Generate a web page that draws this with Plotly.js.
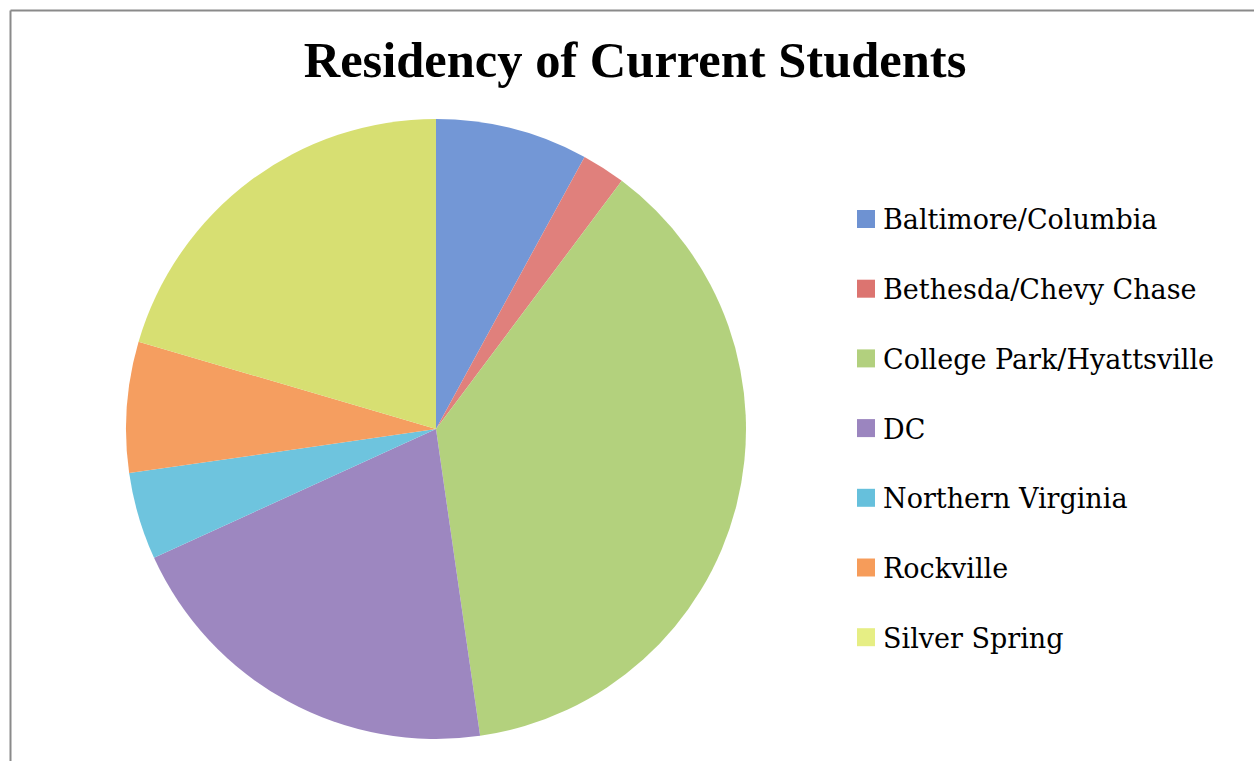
<!DOCTYPE html>
<html>
<head>
<meta charset="utf-8">
<script src="https://cdn.plot.ly/plotly-3.0.1.min.js"></script>
<style>html,body{margin:0;padding:0;background:#fff;}#chart{width:1254px;height:761px;}</style>
</head>
<body>
<div id="chart"></div>
<script>
// Data
const categories = ["Baltimore/Columbia", "Bethesda/Chevy Chase", "College Park/Hyattsville", "DC", "Northern Virginia", "Rockville", "Silver Spring"];
const students = [7, 2, 33, 18, 4, 6, 18];
const sliceColors = ["#7397d6", "#e0807c", "#b3d17d", "#9d87c0", "#6ec4de", "#f59e60", "#d7df72"];
const legendColors = ["#6e92d2", "#dc7470", "#b2d07e", "#9b85bf", "#66c0dc", "#f69c5a", "#e6ee84"];
const chartTitle = "Residency of Current Students";

const W = 1254, H = 761;
const px = x => x / W;
const py = y => 1 - y / H;

const shapes = [
  {type: "line", xref: "paper", yref: "paper", x0: px(10.5), x1: px(1254), y0: py(10.5), y1: py(10.5), line: {color: "#8a8a8a", width: 2}},
  {type: "line", xref: "paper", yref: "paper", x0: px(10.5), x1: px(10.5), y0: py(10.5), y1: py(761), line: {color: "#8a8a8a", width: 2}}
];
const annotations = [];
const legendTop = 219, legendStep = 69.7;
categories.forEach((c, i) => {
  const cy = legendTop + i * legendStep;
  shapes.push({type: "rect", xref: "paper", yref: "paper", x0: px(857), x1: px(875), y0: py(cy - 9), y1: py(cy + 9), fillcolor: legendColors[i], line: {width: 0}});
  annotations.push({xref: "paper", yref: "paper", x: px(881), y: py(cy + 1), xanchor: "left", yanchor: "middle", showarrow: false, text: c, font: {family: "DejaVu Serif", size: 27, color: "#000"}});
});

const trace = {
  type: "pie",
  labels: categories,
  values: students,
  sort: false,
  direction: "clockwise",
  rotation: 0,
  textinfo: "none",
  hoverinfo: "label+value+percent",
  marker: {colors: sliceColors, line: {width: 0}},
  domain: {x: [px(126), px(746)], y: [py(739), py(119)]},
  showlegend: false
};

const layout = {
  width: W, height: H,
  margin: {l: 0, r: 0, t: 0, b: 0},
  paper_bgcolor: "#fff",
  showlegend: false,
  title: {text: "<b>" + chartTitle + "</b>", x: 635 / W, xanchor: "center", y: py(59), yanchor: "middle", yref: "paper", font: {family: "Liberation Serif", size: 50.5, color: "#000"}},
  shapes: shapes,
  annotations: annotations
};

Plotly.newPlot("chart", [trace], layout, {displayModeBar: false});
</script>
</body>
</html>
